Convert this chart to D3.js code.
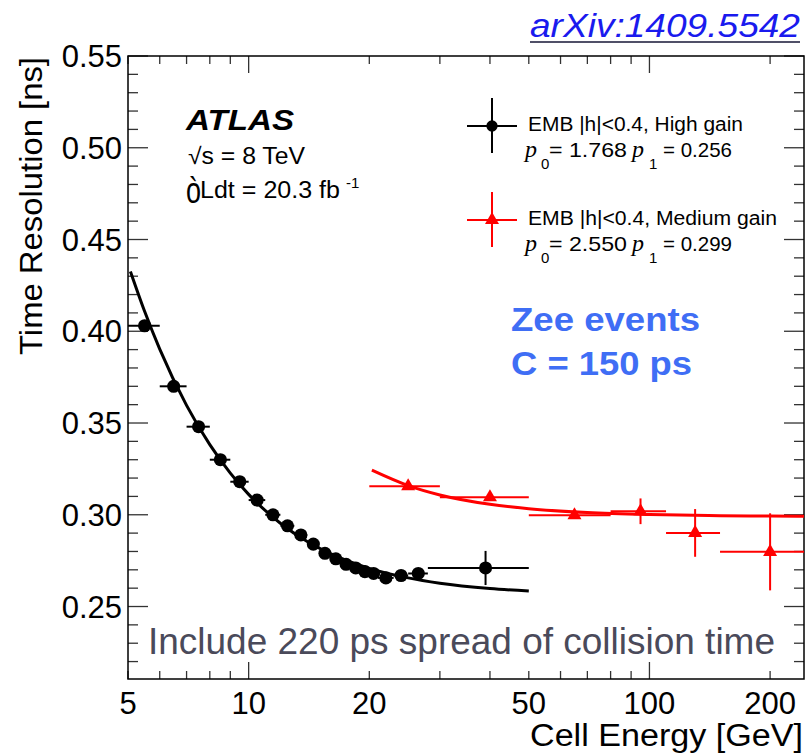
<!DOCTYPE html>
<html>
<head>
<meta charset="utf-8">
<script src="https://cdn.jsdelivr.net/npm/d3@7"></script>
<style>
  body { margin: 0; background: #fff; }
  text { font-family: "Liberation Sans", Arial, Helvetica, sans-serif; }
</style>
</head>
<body>
<div id="chart"></div>
<script>
// High gain points (black): energy, bin edges, resolution, error
var hgE   = [5.5, 6.5, 7.5, 8.5, 9.5, 10.5, 11.5, 12.5, 13.5, 14.5, 15.5, 16.5, 17.5, 18.5, 19.5, 20.5, 22, 24, 26.5, 39]
var hgLo  = [5, 6, 7, 8, 9, 10, 11, 12, 13, 14, 15, 16, 17, 18, 19, 20, 21, 23, 25, 28]
var hgHi  = [6, 7, 8, 9, 10, 11, 12, 13, 14, 15, 16, 17, 18, 19, 20, 21, 23, 25, 28, 50]
var hgT   = [0.403, 0.370, 0.348, 0.330, 0.318, 0.308, 0.300, 0.294, 0.289, 0.284, 0.279, 0.276, 0.273, 0.271, 0.269, 0.268, 0.2656, 0.2669, 0.268, 0.271]
var hgErr = [0.002, 0.002, 0.002, 0.002, 0.002, 0.002, 0.002, 0.002, 0.002, 0.002, 0.002, 0.002, 0.002, 0.002, 0.002, 0.002, 0.002, 0.002, 0.002, 0.0093]

// Medium gain points (red)
var mgE   = [25, 40, 65, 95, 130, 200]
var mgLo  = [20, 30, 50, 80, 110, 150]
var mgHi  = [30, 50, 80, 110, 150, 250]
var mgT   = [0.3155, 0.3095, 0.2997, 0.3019, 0.2901, 0.2798]
var mgErr = [0.002, 0.002, 0.002, 0.007, 0.013, 0.021]

// fitted curves
var hgFitE = [5.07, 5.5, 6, 7, 8, 9, 10, 12, 14, 16, 20, 25, 30, 40, 50]
var hgFitT = [0.4326, 0.4109, 0.3903, 0.3596, 0.3382, 0.3227, 0.3111, 0.2954, 0.2854, 0.2788, 0.2708, 0.2656, 0.2627, 0.2598, 0.2584]
var mgFitE = [20.3, 25, 30, 40, 50, 70, 100, 150, 200, 250]
var mgFitT = [0.3243, 0.3159, 0.3108, 0.3057, 0.3033, 0.3012, 0.3001, 0.2995, 0.2993, 0.2992]

var xLabels = [5, 10, 20, 50, 100, 200]
var yLabels = [0.25, 0.30, 0.35, 0.40, 0.45, 0.50, 0.55]
var yMinor = d3.range(22, 56).map(function(v){ return v / 100 })

var W = 810, H = 753
var fL = 128, fR = 804, fT = 56, fB = 679

var svg = d3.select("#chart").append("svg")
    .attr("width", W).attr("height", H)

var x = d3.scaleLog().domain([5, 243]).range([fL, fR])
var y = d3.scaleLinear().domain([0.2105, 0.55]).range([fB, fT])

svg.append("defs").append("clipPath").attr("id", "frameClip")
    .append("rect").attr("x", fL).attr("y", fT).attr("width", fR - fL).attr("height", fB - fT)

// stretched text helper (the original rendering is a bit wider than the font)
function addText(px, py, str, size, len){
    var t = svg.append("text").attr("x", px).attr("y", py)
        .style("font-size", size + "px").text(str)
    if (len) t.attr("textLength", len).attr("lengthAdjust", "spacingAndGlyphs")
    return t
}

// ticks (ROOT style, pointing inwards on all four sides)
var tickCol = "#333"
var xTicks = x.ticks()
var isDecade = function(v){ return Math.abs(Math.log10(v) - Math.round(Math.log10(v))) < 1e-9 }
var ticks = svg.append("g")
xTicks.forEach(function(v){
    var len = isDecade(v) ? 17 : 8
    ticks.append("line").attr("x1", x(v)).attr("x2", x(v)).attr("y1", fB).attr("y2", fB - len)
    ticks.append("line").attr("x1", x(v)).attr("x2", x(v)).attr("y1", fT).attr("y2", fT + len)
})
yMinor.forEach(function(v){
    var major = yLabels.some(function(m){ return Math.abs(m - v) < 1e-9 })
    var len = major ? 20 : 10
    ticks.append("line").attr("x1", fL).attr("x2", fL + len).attr("y1", y(v)).attr("y2", y(v))
    ticks.append("line").attr("x1", fR).attr("x2", fR - len).attr("y1", y(v)).attr("y2", y(v))
})
ticks.selectAll("line").style("stroke", tickCol).style("stroke-width", 1.3)

// frame
svg.append("rect").attr("x", fL).attr("y", fT).attr("width", fR - fL).attr("height", fB - fT)
    .style("fill", "none").style("stroke", "#000").style("stroke-width", 1.5)

// tick labels
svg.append("g").selectAll("text").data(yLabels).enter().append("text")
    .attr("x", 122).attr("y", function(d){ return y(d) + 11 })
    .attr("text-anchor", "end")
    .style("font-size", "31px")
    .text(function(d){ return d.toFixed(2) })

svg.append("g").selectAll("text").data(xLabels).enter().append("text")
    .attr("x", function(d){ return x(d) }).attr("y", 714)
    .attr("text-anchor", "middle")
    .style("font-size", "31px")
    .text(function(d){ return d })

// axis titles
svg.append("text")
    .attr("transform", "translate(42,355) rotate(-90)")
    .attr("textLength", 298).attr("lengthAdjust", "spacingAndGlyphs")
    .style("font-size", "31px")
    .text("Time Resolution [ns]")
addText(530, 746, "Cell Energy [GeV]", 31, 273)

// arXiv reference
addText(530, 37, "arXiv:1409.5542", 33, 270)
    .style("font-style", "italic").style("fill", "#1a1aee")
svg.append("line").attr("x1", 530).attr("x2", 800).attr("y1", 42).attr("y2", 42)
    .style("stroke", "#505068").style("stroke-width", 2)

var plot = svg.append("g").attr("clip-path", "url(#frameClip)")

// fit curves
var fitLine = d3.line()
    .x(function(d){ return x(d[0]) })
    .y(function(d){ return y(d[1]) })
    .curve(d3.curveMonotoneX)

plot.append("path").datum(d3.zip(hgFitE, hgFitT)).attr("d", fitLine)
    .style("fill", "none").style("stroke", "#000").style("stroke-width", 3)
plot.append("path").datum(d3.zip(mgFitE, mgFitT)).attr("d", fitLine)
    .style("fill", "none").style("stroke", "#ff0000").style("stroke-width", 3)

// error bars + markers
function drawSeries(E, lo, hi, t, err, col, marker){
    var g = plot.append("g")
    E.forEach(function(e, i){
        g.append("line").attr("x1", x(lo[i])).attr("x2", x(hi[i]))
            .attr("y1", y(t[i])).attr("y2", y(t[i]))
            .style("stroke", col).style("stroke-width", 2)
        g.append("line").attr("x1", x(e)).attr("x2", x(e))
            .attr("y1", y(t[i] - err[i])).attr("y2", y(t[i] + err[i]))
            .style("stroke", col).style("stroke-width", 2)
    })
    g.selectAll("path.m").data(E).enter().append("path")
        .attr("class", "m")
        .attr("transform", function(e, i){ return "translate(" + x(e) + "," + y(t[i]) + ")" })
        .attr("d", marker)
        .style("fill", col)
}
drawSeries(hgE, hgLo, hgHi, hgT, hgErr, "#000", d3.symbol().type(d3.symbolCircle).size(135))
drawSeries(mgE, mgLo, mgHi, mgT, mgErr, "#ff0000", d3.symbol().type(d3.symbolTriangle).size(85))

// ATLAS label
addText(186, 130, "ATLAS", 29, 108)
    .style("font-weight", "bold").style("font-style", "italic")
addText(188, 164, "\u221As = 8 TeV", 23, 117)
svg.append("text").attr("transform", "translate(186,203) scale(1,1.35)")
    .style("font-size", "27px").text("\u00F2")
addText(200, 198, "Ldt = 20.3 fb", 23, 140)
addText(346, 188, "-1", 15)

// legend
function legendEntry(cy, col, marker, label, labelLen, p0, p1){
    svg.append("line").attr("x1", 467).attr("x2", 517).attr("y1", cy).attr("y2", cy)
        .style("stroke", col).style("stroke-width", 2)
    svg.append("line").attr("x1", 492).attr("x2", 492).attr("y1", cy - 28).attr("y2", cy + 27)
        .style("stroke", col).style("stroke-width", 2)
    svg.append("path").attr("transform", "translate(492," + cy + ")").attr("d", marker).style("fill", col)
    addText(528, cy + 5, label, 20, labelLen)
    var base = cy + 31
    var serif = "'Liberation Serif', 'Times New Roman', serif"
    addText(525, base, "p", 24).style("font-family", serif).style("font-style", "italic")
    addText(541, base + 12, "0", 15)
    addText(549, base, "= " + p0, 21, 78)
    addText(632, base, "p", 24).style("font-family", serif).style("font-style", "italic")
    addText(649, base + 12, "1", 15)
    addText(663, base, "= " + p1, 21, 69)
}
legendEntry(126, "#000", d3.symbol().type(d3.symbolCircle).size(100), "EMB |h|<0.4, High gain", 215, "1.768", "0.256")
legendEntry(220, "#ff0000", d3.symbol().type(d3.symbolTriangle).size(85), "EMB |h|<0.4, Medium gain", 249, "2.550", "0.299")

// annotations
addText(511, 331, "Zee events", 34, 189)
    .style("font-weight", "bold").style("fill", "#3f6ef5")
addText(511, 375, "C = 150 ps", 34, 181)
    .style("font-weight", "bold").style("fill", "#3f6ef5")
addText(148, 654, "Include 220 ps spread of collision time", 36, 627)
    .style("fill", "#4a4a5a")
</script>
</body>
</html>
